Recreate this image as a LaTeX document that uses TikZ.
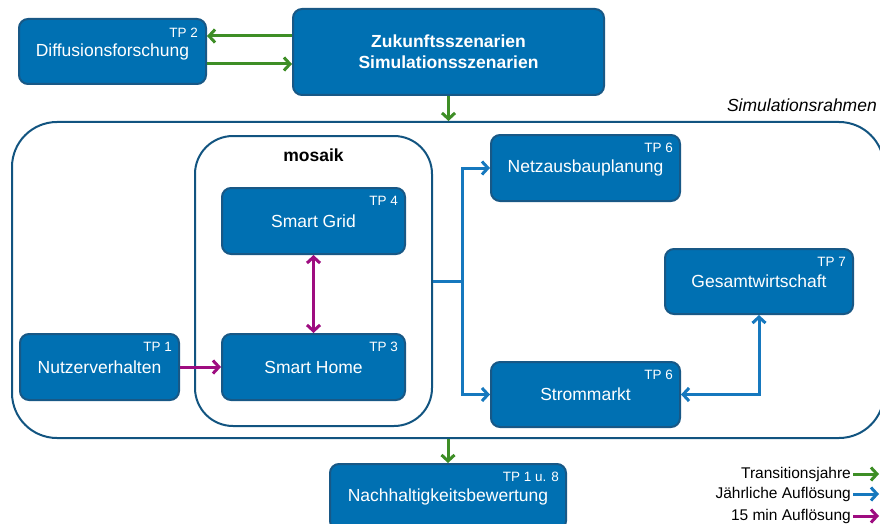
\documentclass[tikz,border=0pt]{standalone}
\usepackage{fontspec}
\setmainfont{Liberation Sans}
\usetikzlibrary{arrows.meta,positioning}
\definecolor{tpblue}{RGB}{0,112,178}
\definecolor{tpedge}{RGB}{24,88,134}
\definecolor{framecol}{RGB}{18,84,128}
\definecolor{tgreen}{RGB}{62,142,38}
\definecolor{yblue}{RGB}{22,120,190}
\definecolor{qmag}{RGB}{158,12,128}
\tikzset{
  tpbox/.style={draw=tpedge,line width=2pt,fill=tpblue,rounded corners=9pt,text=white,
    font=\fontsize{17.5}{21}\selectfont,align=center,inner sep=0pt},
  tplabel/.style={text=white,font=\fontsize{13.5}{16}\selectfont,anchor=north east,inner sep=0pt},
  frame/.style={draw=framecol,line width=2pt},
  con/.style={line width=3pt,>={Straight Barb[length=6pt,width=13pt]}},
}

\begin{document}
\begin{tikzpicture}[x=1pt,y=-1pt]
  \clip (0,0) rectangle (880,524);
  % frames
  \node[frame,rounded corners=45pt,minimum width=872pt,minimum height=316pt] (sim) at (448,280) {};
  \node[anchor=base east,font=\fontsize{17.5}{21}\selectfont\itshape,inner sep=0pt] (simlbl) at (877,112) {Simulationsrahmen};
  \node[frame,rounded corners=38pt,minimum width=237pt,minimum height=290pt] (mosaik) at (313.5,281) {};
  \node[anchor=north,font=\fontsize{17.5}{21}\selectfont\bfseries,inner sep=0pt] (mosaiklbl) at ([yshift=-14pt]mosaik.north) {mosaik};

  % boxes
  \node[tpbox,minimum width=187pt,minimum height=65pt] (diff) at (112.5,51.5) {Diffusionsforschung};
  \node[tplabel] at ([xshift=-9pt,yshift=-10pt]diff.north east) {TP 2};
  \node[tpbox,minimum width=311pt,minimum height=86pt,font=\fontsize{17.5}{21}\selectfont\bfseries] (zuk) at (448.5,52) {Zukunftsszenarien\\Simulationsszenarien};
  \node[tpbox,minimum width=183pt,minimum height=66pt] (grid) at (313.5,221) {Smart Grid};
  \node[tplabel] at ([xshift=-8pt,yshift=-9pt]grid.north east) {TP 4};
  \node[tpbox,minimum width=183pt,minimum height=66pt] (home) at (313.5,367) {Smart Home};
  \node[tplabel] at ([xshift=-8pt,yshift=-9pt]home.north east) {TP 3};
  \node[tpbox,minimum width=159pt,minimum height=66pt] (nutzer) at (99.5,367) {Nutzerverhalten};
  \node[tplabel] at ([xshift=-8pt,yshift=-9pt]nutzer.north east) {TP 1};
  \node[tpbox,minimum width=189pt,minimum height=66pt] (netz) at (585.5,168) {Netzausbauplanung};
  \node[tplabel] at ([xshift=-8pt,yshift=-9pt]netz.north east) {TP 6};
  \node[tpbox,minimum width=188pt,minimum height=65pt] (gesamt) at (759,281.5) {Gesamtwirtschaft};
  \node[tplabel] at ([xshift=-8pt,yshift=-9pt]gesamt.north east) {TP 7};
  \node[tpbox,minimum width=189pt,minimum height=65pt] (strom) at (585.5,394.5) {Strommarkt};
  \node[tplabel] at ([xshift=-8pt,yshift=-9pt]strom.north east) {TP 6};
  \node[tpbox,minimum width=236pt,minimum height=66pt] (nach) at (448,497) {Nachhaltigkeitsbewertung};
  \node[tplabel] at ([xshift=-8pt,yshift=-9pt]nach.north east) {TP 1 u. 8};

  % Transitionsjahre
  \draw[con,tgreen,->] ([yshift=16pt]zuk.west) -- ([yshift=16pt]zuk.west -| diff.east);
  \draw[con,tgreen,->] ([yshift=-12.5pt]diff.east) -- ([yshift=-12.5pt]diff.east -| zuk.west);
  \draw[con,tgreen,->] (zuk.south) -- (zuk.south |- sim.north);
  \draw[con,tgreen,->] (nach.north |- sim.south) -- (nach.north);

  % jaehrlich
  \coordinate (br) at (462,281);
  \draw[con,yblue,->] (mosaik.east) -- (br) |- (netz.west);
  \draw[con,yblue,->] (br) |- (strom.west);
  \draw[con,yblue,<->] (strom.east) -| (gesamt.south);

  % 15 min
  \draw[con,qmag,->] (nutzer) -- (home);
  \draw[con,qmag,<->] (grid) -- (home);

  % legend
  \foreach \t/\c/\y [count=\i] in {Transitionsjahre/tgreen/474,J\"ahrliche Aufl\"osung/yblue/494,15 min Aufl\"osung/qmag/516}{
    \node[anchor=east,inner sep=2pt,font=\fontsize{15.5}{18}\selectfont] (leg\i) at (853,\y) {\t};
    \coordinate (legend\i) at (879,\y);
    \draw[con,color=\c,->] (leg\i.east) -- (legend\i);
  }
\end{tikzpicture}
\end{document}
